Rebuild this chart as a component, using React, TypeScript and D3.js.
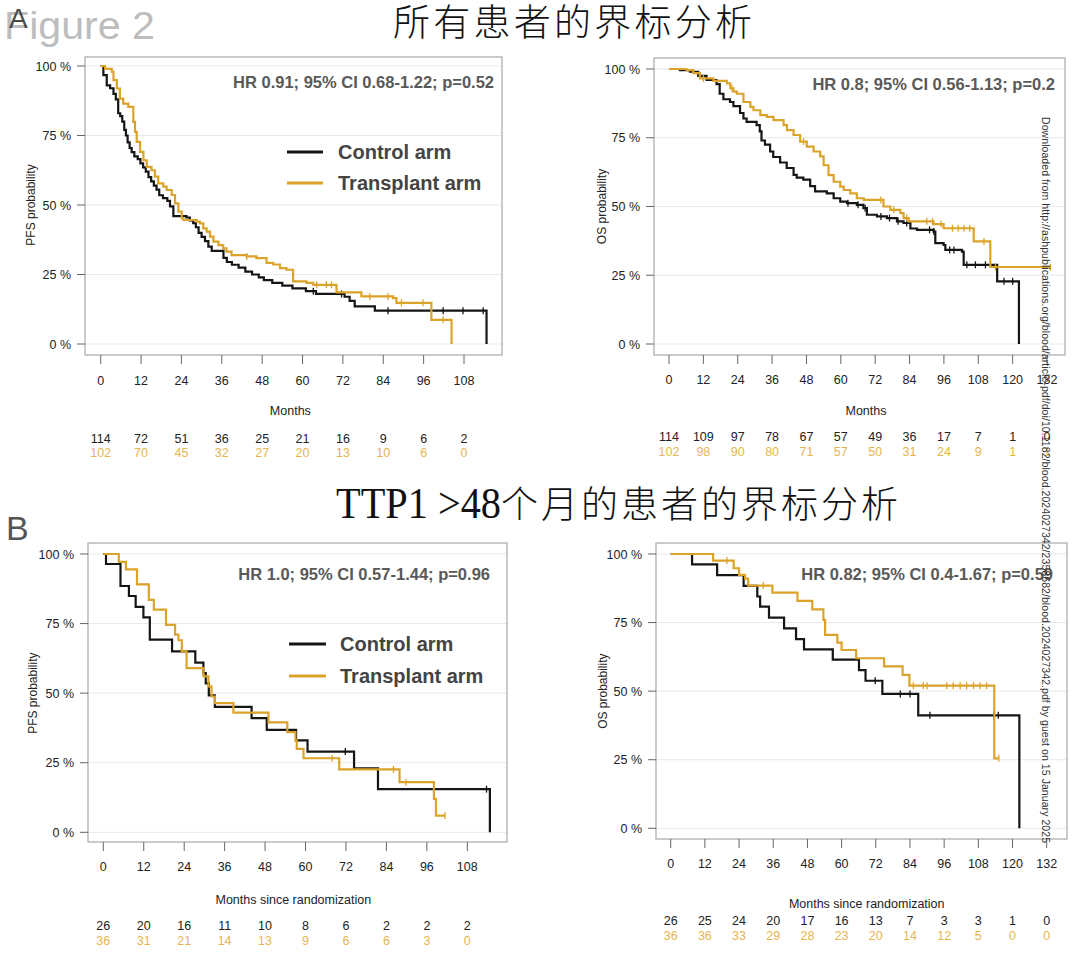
import React from 'react';
import * as d3 from 'd3';

type Pt = [number, number];

// ---------- tick labels ----------
const monthTicks108 = [0, 12, 24, 36, 48, 60, 72, 84, 96, 108];
const monthTicks132 = [0, 12, 24, 36, 48, 60, 72, 84, 96, 108, 120, 132];
const yTickValues = [0, 0.25, 0.5, 0.75, 1];
const yTickLabels = ['0 %', '25 %', '50 %', '75 %', '100 %'];
const seriesNames = ['Control arm', 'Transplant arm'];

// ---------- A: all patients, PFS ----------
const aPfsControl: Pt[] = [[0,1],[0.8,0.967],[1.8,0.93],[2.8,0.92],[3.8,0.9],[4.5,0.88],[5.2,0.83],[5.8,0.82],[6.4,0.8],[7.0,0.77],[7.5,0.75],[8.0,0.725],[8.6,0.705],[9.2,0.69],[10.0,0.675],[11.0,0.665],[11.8,0.65],[12.6,0.635],[13.4,0.62],[14.2,0.6],[15.0,0.585],[15.8,0.57],[16.6,0.555],[17.4,0.535],[18.5,0.525],[19.8,0.515],[20.6,0.495],[21.6,0.46],[25.5,0.455],[26.5,0.445],[27.5,0.435],[28.3,0.42],[29.1,0.4],[30.0,0.385],[31.0,0.37],[32.0,0.35],[33.0,0.335],[36.5,0.31],[37.5,0.295],[39,0.285],[41,0.275],[43,0.26],[45,0.25],[47,0.24],[48.5,0.23],[51,0.22],[54,0.21],[57,0.2],[61,0.19],[64,0.18],[72.5,0.17],[74,0.155],[75.5,0.135],[81.5,0.12]];
const aPfsControlEnd = 114.7;
const aPfsControlCensor = [63.2, 71.6, 85.4, 101.8, 107.7, 113.7];
const aPfsTransplant: Pt[] = [[0,1],[1.3,0.99],[3.3,0.98],[3.8,0.949],[4.8,0.919],[5.7,0.883],[6.7,0.865],[8.2,0.853],[9.7,0.799],[10.2,0.763],[10.7,0.727],[11.7,0.691],[12.7,0.661],[13.7,0.637],[15.1,0.625],[16.1,0.602],[17.1,0.578],[18.6,0.566],[19.6,0.554],[21.1,0.536],[22.1,0.506],[23.1,0.476],[24.1,0.452],[24.6,0.446],[28.5,0.44],[29.5,0.434],[30.5,0.416],[31.5,0.404],[32.5,0.386],[33.5,0.368],[35.0,0.356],[36.4,0.344],[37.4,0.332],[38.9,0.32],[43.4,0.315],[46.3,0.309],[49.3,0.292],[51.3,0.286],[53.3,0.273],[55.2,0.267],[57.2,0.225],[61.2,0.22],[63.2,0.213],[70.1,0.186],[77.5,0.171],[86.9,0.165],[87.9,0.148],[98.3,0.087]];
const aPfsTransplantEnd = 104.3;
const aPfsTransplantCensor = [43.4, 64.2, 67.1, 68.6, 80, 85.4, 89.4, 95.8, 101.8];
const aPfsRiskControl = [114, 72, 51, 36, 25, 21, 16, 9, 6, 2];
const aPfsRiskTransplant = [102, 70, 45, 32, 27, 20, 13, 10, 6, 0];

// ---------- A: all patients, OS ----------
const aOsControl: Pt[] = [[0,1],[3.8,0.996],[7.3,0.99],[10.2,0.975],[13.1,0.96],[16.6,0.945],[17.7,0.91],[19.0,0.89],[21.3,0.88],[22.5,0.865],[24.8,0.84],[26.0,0.82],[27.1,0.808],[30.6,0.796],[31.7,0.773],[32.3,0.74],[33.5,0.725],[35.3,0.7],[36.4,0.68],[38.8,0.66],[41.1,0.64],[43.5,0.615],[44.6,0.605],[46.9,0.598],[49.3,0.574],[51.0,0.555],[55.1,0.548],[57.5,0.53],[59.8,0.518],[62.2,0.512],[65.6,0.506],[67.9,0.494],[69.1,0.47],[72.6,0.464],[76.1,0.458],[79.6,0.446],[81.9,0.44],[84.3,0.42],[86.6,0.415],[92.4,0.409],[93.0,0.367],[95.9,0.36],[96.5,0.342],[102.3,0.336],[102.9,0.288],[114.6,0.228]];
const aOsControlEnd = 122.2;
const aOsControlCensor = [62.5, 66, 68.5, 74, 77, 80, 83, 91, 92.5, 98, 99.5, 104, 107, 110.5, 117, 120];
const aOsTransplant: Pt[] = [[0,1],[6.1,0.996],[8.5,0.985],[10.8,0.966],[15.5,0.957],[20.2,0.948],[21.4,0.93],[22.5,0.918],[23.7,0.91],[26.0,0.88],[28.4,0.862],[29.5,0.85],[31.9,0.832],[34.2,0.826],[36.5,0.814],[40.0,0.796],[41.2,0.778],[43.5,0.76],[45.8,0.736],[48.1,0.718],[50.5,0.7],[52.8,0.682],[54.0,0.65],[55.7,0.614],[57.5,0.59],[59.8,0.572],[61.0,0.56],[63.3,0.548],[65.6,0.53],[68.0,0.524],[74.9,0.5],[77.3,0.488],[80.8,0.476],[81.9,0.458],[83.7,0.446],[92.4,0.436],[95.9,0.421],[106.4,0.373],[112.2,0.28]];
const aOsTransplantEnd = 133.2;
const aOsTransplantCensor = [12, 22, 47, 74, 78.5, 83, 90, 92, 95, 99, 101, 103, 105, 110, 114, 133.2];
const aOsRiskControl = [114, 109, 97, 78, 67, 57, 49, 36, 17, 7, 1, 0];
const aOsRiskTransplant = [102, 98, 90, 80, 71, 57, 50, 31, 24, 9, 1, 1];

// ---------- B: TTP1 > 48 months, PFS ----------
const bPfsControl: Pt[] = [[0,1],[0.8,0.964],[5.1,0.885],[7.6,0.849],[9.6,0.81],[11.9,0.772],[13.8,0.692],[20.4,0.65],[27.3,0.61],[29.7,0.572],[30.4,0.535],[31.3,0.492],[33.1,0.451],[44.0,0.41],[48.5,0.368],[57.2,0.33],[60.6,0.29],[74.4,0.23],[81.5,0.155]];
const bPfsControlEnd = 114.7;
const bPfsControlCensor = [71.8, 113.7];
const bPfsTransplant: Pt[] = [[0,1],[4.6,0.972],[6.7,0.945],[10.0,0.891],[13.5,0.835],[15.0,0.8],[18.6,0.745],[21.3,0.71],[22.3,0.69],[23.3,0.65],[24.7,0.59],[29.7,0.56],[31.2,0.524],[32.1,0.488],[33.1,0.464],[38.6,0.43],[49.0,0.395],[54.6,0.36],[57.0,0.33],[57.4,0.3],[59.4,0.266],[70.0,0.226],[87.9,0.18],[98.1,0.12],[98.7,0.06]];
const bPfsTransplantEnd = 101.4;
const bPfsTransplantCensor = [67.9, 86.1, 89.8, 101.4];
const bPfsRiskControl = [26, 20, 16, 11, 10, 8, 6, 2, 2, 2];
const bPfsRiskTransplant = [36, 31, 21, 14, 13, 9, 6, 6, 3, 0];

// ---------- B: TTP1 > 48 months, OS ----------
const bOsControl: Pt[] = [[0,1],[7.5,0.962],[16.3,0.923],[25.6,0.884],[30.4,0.845],[31.4,0.808],[34.5,0.768],[39.8,0.729],[44.0,0.69],[46.8,0.652],[56.9,0.615],[66.1,0.577],[68.4,0.538],[74.3,0.49],[86.9,0.412]];
const bOsControlEnd = 122.4;
const bOsControlCensor = [71.8, 80.6, 84.0, 91.0, 113.4, 115.0];
const bOsTransplant: Pt[] = [[0,1],[14.9,0.976],[22.1,0.948],[24.0,0.924],[26.1,0.91],[27.2,0.885],[35.7,0.859],[44.5,0.829],[49.7,0.798],[53.6,0.76],[54.2,0.705],[58.5,0.677],[60.0,0.65],[65.1,0.62],[74.9,0.59],[81.4,0.559],[83.8,0.52],[113.6,0.255]];
const bOsTransplantEnd = 115.2;
const bOsTransplantCensor = [19.7, 32.5, 85.2, 88.7, 90.0, 96.9, 99.2, 101.6, 103.9, 106.3, 108.6, 110.9, 115.2];
const bOsRiskControl = [26, 25, 24, 20, 17, 16, 13, 7, 3, 3, 1, 0];
const bOsRiskTransplant = [36, 36, 33, 29, 28, 23, 20, 14, 12, 5, 0, 0];

// ---------- texts ----------
const titleA = '所有患者的界标分析';
const titleBLatin = 'TTP1 >48';
const titleBCjk = '个月的患者的界标分析';
const hrAPfs = 'HR 0.91; 95% CI 0.68-1.22; p=0.52';
const hrAOs = 'HR 0.8; 95% CI 0.56-1.13; p=0.2';
const hrBPfs = 'HR 1.0; 95% CI 0.57-1.44; p=0.96';
const hrBOs = 'HR 0.82; 95% CI 0.4-1.67; p=0.59';
const watermark = 'Downloaded from http://ashpublications.org/blood/article-pdf/doi/10.1182/blood.2024027342/2358682/blood.2024027342.pdf by guest on 15 January 2025';

const FONT = '"Liberation Sans", Arial, Helvetica, sans-serif';
const CJK = '"Noto Sans CJK SC", sans-serif';
const BLACK = '#151515';
const GOLD = '#DBA32A';
const GOLD_TEXT = '#E6B54F';

interface Curve { pts: Pt[]; end: number; drop: boolean; censor: number[]; }
interface PanelSpec {
  box: [number, number, number, number];
  xMax: number; xr: [number, number]; yr: [number, number];
  ticks: number[];
  ylabel: string; ylabelX: number;
  xlabel: string; tickLabelY: number; xlabelY: number; riskY: [number, number];
  hr: string; hrX: number; hrY: number;
  legend?: { lx0: number; lx1: number; tx: number; ys: [number, number] };
  control: Curve; transplant: Curve;
  riskControl: number[]; riskTransplant: number[];
}

function survAt(pts: Pt[], t: number) {
  let s = pts[0][1];
  for (const p of pts) { if (p[0] <= t) s = p[1]; else break; }
  return s;
}

function Panel({ p }: { p: PanelSpec }) {
  const [bx0, by0, bx1, by1] = p.box;
  const x = d3.scaleLinear().domain([0, p.xMax]).range(p.xr);
  const y = d3.scaleLinear().domain([0, 1]).range(p.yr);
  const line = d3.line<Pt>().x(d => x(d[0])).y(d => y(d[1])).curve(d3.curveStepAfter);
  const curvePath = (c: Curve) => {
    const pts: Pt[] = [...c.pts, [c.end, c.pts[c.pts.length - 1][1]]];
    if (c.drop) pts.push([c.end, 0]);
    return line(pts) || '';
  };
  const drawCurve = (c: Curve, color: string) => (
    <g>
      <path d={curvePath(c)} fill="none" stroke={color} strokeWidth={2.2} />
      {c.censor.map((t, i) => {
        const cx = x(t), cy = y(survAt(c.pts, t));
        return <line key={i} x1={cx} x2={cx} y1={cy - 3.5} y2={cy + 3.5} stroke={color} strokeWidth={1.3} />;
      })}
    </g>
  );
  const yMid = (p.yr[0] + p.yr[1]) / 2;
  return (
    <g fontFamily={FONT}>
      {yTickValues.map((v, i) => (
        <line key={'g' + i} x1={bx0} x2={bx1} y1={y(v)} y2={y(v)} stroke="#e9e9e9" strokeWidth={1} />
      ))}
      <rect x={bx0} y={by0} width={bx1 - bx0} height={by1 - by0} fill="none" stroke="#a8a8a8" strokeWidth={1.2} />
      {yTickValues.map((v, i) => (
        <g key={'y' + i}>
          <line x1={bx0 - 8} x2={bx0} y1={y(v)} y2={y(v)} stroke="#666" strokeWidth={1} />
          <text x={bx0 - 14} y={y(v) + 4.5} fontSize={12.5} textAnchor="end" fill="#222">{yTickLabels[i]}</text>
        </g>
      ))}
      {p.ticks.map((t, i) => (
        <g key={'x' + i}>
          <line x1={x(t)} x2={x(t)} y1={by1} y2={by1 + 9} stroke="#666" strokeWidth={1} />
          <text x={x(t)} y={p.tickLabelY} fontSize={12.5} textAnchor="middle" fill="#222">{t}</text>
          {p.riskControl[i] !== undefined && (
            <text x={x(t)} y={p.riskY[0]} fontSize={12.5} textAnchor="middle" fill="#222">{p.riskControl[i]}</text>
          )}
          {p.riskTransplant[i] !== undefined && (
            <text x={x(t)} y={p.riskY[1]} fontSize={12.5} textAnchor="middle" fill={GOLD_TEXT}>{p.riskTransplant[i]}</text>
          )}
        </g>
      ))}
      <text x={(p.xr[0] + x(p.ticks[p.ticks.length - 1])) / 2 + 8} y={p.xlabelY} fontSize={12.5} textAnchor="middle" fill="#222">{p.xlabel}</text>
      <text transform={`translate(${p.ylabelX},${yMid}) rotate(-90)`} fontSize={12} textAnchor="middle" fill="#222">{p.ylabel}</text>
      {drawCurve(p.control, BLACK)}
      {drawCurve(p.transplant, GOLD)}
      <text x={p.hrX} y={p.hrY} fontSize={16.5} fontWeight="bold" textAnchor="end" fill="#595959">{p.hr}</text>
      {p.legend && (
        <g>
          <line x1={p.legend.lx0} x2={p.legend.lx1} y1={p.legend.ys[0]} y2={p.legend.ys[0]} stroke={BLACK} strokeWidth={3} />
          <line x1={p.legend.lx0} x2={p.legend.lx1} y1={p.legend.ys[1]} y2={p.legend.ys[1]} stroke={GOLD} strokeWidth={3} />
          <text x={p.legend.tx} y={p.legend.ys[0] + 7} fontSize={20} fontWeight="bold" fill="#444">{seriesNames[0]}</text>
          <text x={p.legend.tx} y={p.legend.ys[1] + 7} fontSize={20} fontWeight="bold" fill="#444">{seriesNames[1]}</text>
        </g>
      )}
    </g>
  );
}

const panels: PanelSpec[] = [
  {
    box: [85, 57, 502, 355], xMax: 108, xr: [100.7, 464], yr: [344, 66], ticks: monthTicks108,
    ylabel: 'PFS probability', ylabelX: 35, xlabel: 'Months', tickLabelY: 384.5, xlabelY: 414.5, riskY: [442.5, 456.5],
    hr: hrAPfs, hrX: 494, hrY: 88,
    legend: { lx0: 287, lx1: 323, tx: 338, ys: [152, 183] },
    control: { pts: aPfsControl, end: aPfsControlEnd, drop: true, censor: aPfsControlCensor },
    transplant: { pts: aPfsTransplant, end: aPfsTransplantEnd, drop: true, censor: aPfsTransplantCensor },
    riskControl: aPfsRiskControl, riskTransplant: aPfsRiskTransplant,
  },
  {
    box: [654, 58, 1065, 355], xMax: 132, xr: [669, 1047], yr: [344, 69], ticks: monthTicks132,
    ylabel: 'OS probability', ylabelX: 606, xlabel: 'Months', tickLabelY: 383.5, xlabelY: 414.5, riskY: [441, 455.5],
    hr: hrAOs, hrX: 1055, hrY: 90,
    control: { pts: aOsControl, end: aOsControlEnd, drop: true, censor: aOsControlCensor },
    transplant: { pts: aOsTransplant, end: aOsTransplantEnd, drop: false, censor: aOsTransplantCensor },
    riskControl: aOsRiskControl, riskTransplant: aOsRiskTransplant,
  },
  {
    box: [88, 543, 507, 842], xMax: 108, xr: [103.3, 467.3], yr: [832.3, 554], ticks: monthTicks108,
    ylabel: 'PFS probability', ylabelX: 37, xlabel: 'Months since randomization', tickLabelY: 871, xlabelY: 903.5, riskY: [930, 944.5],
    hr: hrBPfs, hrX: 490, hrY: 580,
    legend: { lx0: 289, lx1: 326, tx: 340, ys: [644, 676] },
    control: { pts: bPfsControl, end: bPfsControlEnd, drop: true, censor: bPfsControlCensor },
    transplant: { pts: bPfsTransplant, end: bPfsTransplantEnd, drop: false, censor: bPfsTransplantCensor },
    riskControl: bPfsRiskControl, riskTransplant: bPfsRiskTransplant,
  },
  {
    box: [656, 543, 1067, 839], xMax: 132, xr: [670.7, 1046.7], yr: [828.3, 554], ticks: monthTicks132,
    ylabel: 'OS probability', ylabelX: 607, xlabel: 'Months since randomization', tickLabelY: 867.5, xlabelY: 907.5, riskY: [925, 939.5],
    hr: hrBOs, hrX: 1053, hrY: 580,
    control: { pts: bOsControl, end: bOsControlEnd, drop: true, censor: bOsControlCensor },
    transplant: { pts: bOsTransplant, end: bOsTransplantEnd, drop: false, censor: bOsTransplantCensor },
    riskControl: bOsRiskControl, riskTransplant: bOsRiskTransplant,
  },
];

export default function App() {
  return (
    <svg width={1080} height={958} style={{ position: 'absolute', left: 0, top: 0, background: '#fff' }}>
      <rect x={0} y={0} width={1080} height={958} fill="#fff" />
      <text x={4} y={39} fontSize={38} fontFamily={FONT} fill="#bdbdbd" textLength={151} lengthAdjust="spacingAndGlyphs">Figure 2</text>
      <text x={9} y={28} fontSize={28} fontFamily={FONT} fill="#4a4a4a">A</text>
      <text x={6} y={540} fontSize={34} fontFamily={FONT} fill="#555">B</text>
      <text x={393} y={36} fontSize={37} fontWeight={300} fontFamily={CJK} fill="#111" textLength={359} lengthAdjust="spacing">{titleA}</text>
      <text x={336} y={518} fontSize={44} fontFamily='"Liberation Serif", serif' fill="#111" textLength={165} lengthAdjust="spacingAndGlyphs">{titleBLatin}</text>
      <text x={501} y={518} fontSize={37} fontWeight={300} fontFamily={CJK} fill="#111" textLength={397} lengthAdjust="spacing">{titleBCjk}</text>
      {panels.map((p, i) => <Panel key={i} p={p} />)}
      <text transform="translate(1042,117) rotate(90)" fontSize={10.5} fontFamily={FONT} fill="#333" textLength={726} lengthAdjust="spacing">{watermark}</text>
    </svg>
  );
}
